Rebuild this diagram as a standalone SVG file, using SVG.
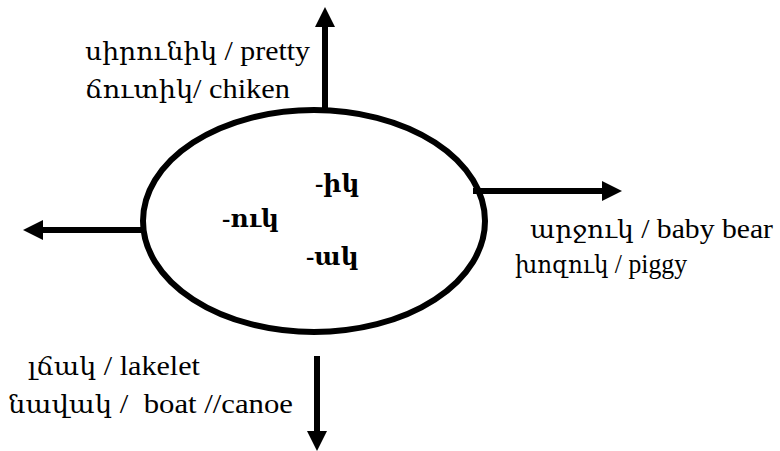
<svg xmlns="http://www.w3.org/2000/svg" width="780" height="451" viewBox="0 0 780 451">
<defs>
<style>
.t{font-family:"Liberation Serif","DejaVu Serif",serif;font-size:25px;fill:#000;white-space:pre}
.l{font-size:28px}
.s{font-family:"Liberation Serif","DejaVu Serif",serif;font-size:25px;font-weight:bold;fill:#000}
.ln{stroke:#000;stroke-width:6;fill:none}
</style>
<marker id="ah" markerUnits="userSpaceOnUse" markerWidth="20" markerHeight="20" refX="0" refY="10" orient="auto" viewBox="0 0 20 20">
<path d="M0,0 L20,10 L0,20 Z" fill="#000"/>
</marker>
</defs>
<g id="center">
<ellipse cx="314" cy="221" rx="171" ry="111" fill="#fff" stroke="#000" stroke-width="6"/>
<text class="s" x="315" y="192">-իկ</text>
<text class="s" x="222" y="227">-ուկ</text>
<text class="s" x="306" y="265">-ակ</text>
</g>
<g id="connectors">
<line class="ln" x1="325" y1="110" x2="325" y2="27" marker-end="url(#ah)"/>
<line class="ln" x1="473" y1="191" x2="602" y2="191" marker-end="url(#ah)"/>
<line class="ln" x1="142" y1="230" x2="43" y2="230" marker-end="url(#ah)"/>
<line class="ln" x1="317" y1="356" x2="317" y2="431" marker-end="url(#ah)"/>
</g>
<g id="top-label">
<text class="t" x="85" y="60" textLength="225" lengthAdjust="spacingAndGlyphs">սիրունիկ<tspan class="l"> / pretty</tspan></text>
<text class="t" x="85" y="98" textLength="205" lengthAdjust="spacingAndGlyphs">ճուտիկ<tspan class="l">/ chiken</tspan></text>
</g>
<g id="right-label">
<text class="t" x="530" y="238" textLength="243" lengthAdjust="spacingAndGlyphs">արջուկ<tspan class="l"> / baby bear</tspan></text>
<text class="t" x="515" y="273" textLength="172" lengthAdjust="spacingAndGlyphs">խոզուկ<tspan class="l"> / piggy</tspan></text>
</g>
<g id="bottom-label">
<text class="t" x="28" y="375" textLength="172" lengthAdjust="spacingAndGlyphs">լճակ<tspan class="l"> / lakelet</tspan></text>
<text class="t" x="8" y="413" textLength="285" lengthAdjust="spacingAndGlyphs">նավակ<tspan class="l"> /  boat //canoe</tspan></text>
</g>
</svg>
